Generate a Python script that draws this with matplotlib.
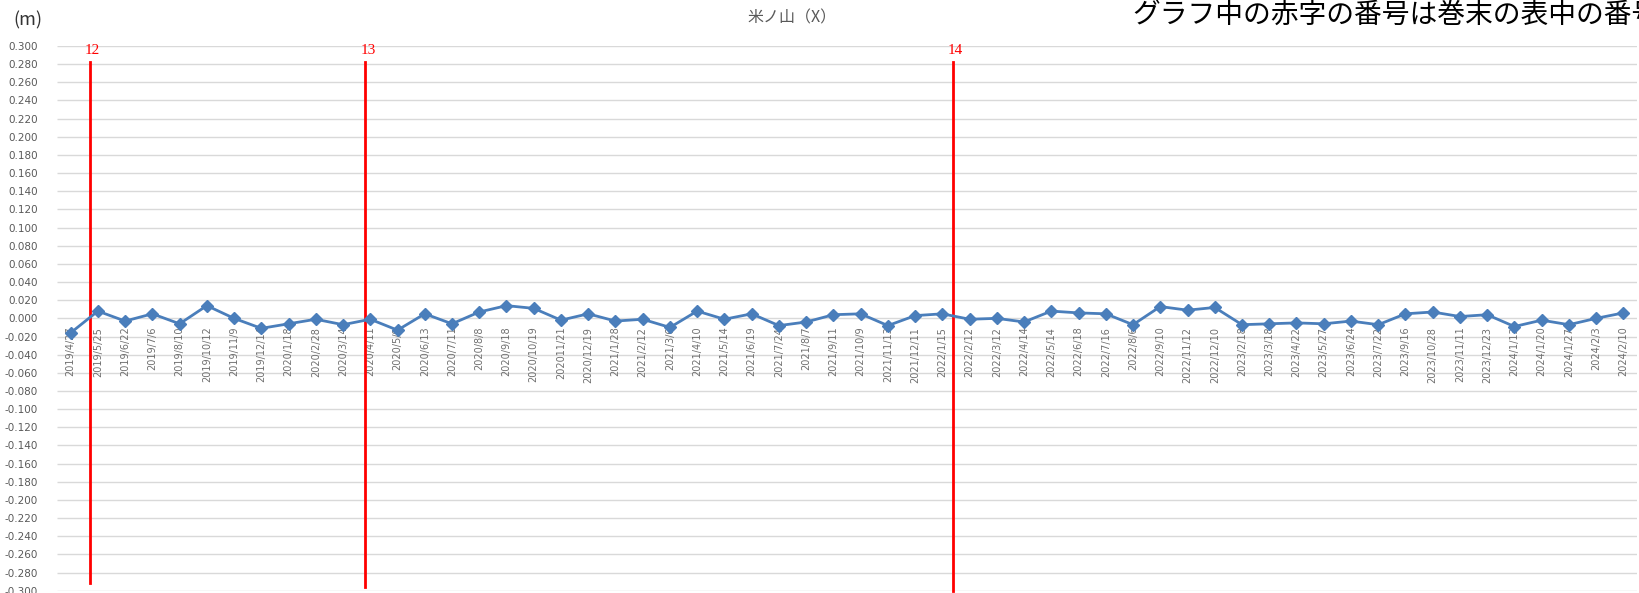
import matplotlib
matplotlib.use("Agg")
import matplotlib.pyplot as plt
import numpy as np

plt.rcParams['font.family'] = ['DejaVu Sans', 'Noto Sans CJK JP']

dates = [
    "2019/4/27", "2019/5/25", "2019/6/22", "2019/7/6", "2019/8/10", "2019/10/12",
    "2019/11/9", "2019/12/14", "2020/1/18", "2020/2/28", "2020/3/14", "2020/4/11",
    "2020/5/9", "2020/6/13", "2020/7/11", "2020/8/8", "2020/9/18", "2020/10/19",
    "202011/21", "2020/12/19", "2021/1/28", "2021/2/12", "2021/3/6", "2021/4/10",
    "2021/5/14", "2021/6/19", "2021/7/24", "2021/8/7", "2021/9/11", "2021/10/9",
    "2021/11/13", "2021/12/11", "2022/1/15", "2022/2/12", "2022/3/12", "2022/4/14",
    "2022/5/14", "2022/6/18", "2022/7/16", "2022/8/6", "2022/9/10", "2022/11/12",
    "2022/12/10", "2023/2/18", "2023/3/18", "2023/4/22", "2023/5/27", "2023/6/24",
    "2023/7/22", "2023/9/16", "2023/10/28", "2023/11/11", "2023/12/23", "2024/1/13",
    "2024/1/20", "2024/1/27", "2024/2/3", "2024/2/10",
]

values = [
    -0.016, 0.008, -0.003, 0.005, -0.006, 0.014,
    0.000, -0.011, -0.006, -0.001, -0.007, -0.001,
    -0.013, 0.005, -0.006, 0.007, 0.014, 0.011,
    -0.002, 0.005, -0.003, -0.001, -0.010, 0.008,
    -0.001, 0.005, -0.008, -0.004, 0.004, 0.005,
    -0.008, 0.003, 0.005, -0.001, 0.000, -0.004,
    0.008, 0.006, 0.005, -0.007, 0.013, 0.009,
    0.012, -0.007, -0.006, -0.005, -0.006, -0.003,
    -0.007, 0.005, 0.007, 0.002, 0.004, -0.009,
    -0.002, -0.007, 0.000, 0.006,
]

event_labels = ["12", "13", "14"]
event_pos = [0.70, 10.82, 32.39]
event_bottom = [-0.291, -0.296, -0.300]

title = "米ノ山（X）"
unit = "(m)"
note = "グラフ中の赤字の番号は巻末の表中の番号に対応"

fig = plt.figure(figsize=(16.39, 5.93), dpi=100)
ax = fig.add_axes([57/1639, 1 - 590.7/593, (1637-57)/1639, (590.7-46)/593])

x = np.arange(len(dates))
yticks = np.round(np.arange(-0.30, 0.3001, 0.02), 3)
ax.set_ylim(-0.30, 0.30)
ax.set_xlim(-0.5, len(dates) - 0.5)
ax.set_yticks(yticks)
ax.set_yticklabels([f"{v:.3f}" for v in yticks], fontsize=7.5, color='#595959')
ax.hlines(yticks, -0.5, len(dates) - 0.5, color='#d9d9d9', linewidth=1.0, zorder=0.5)
for s in ['top', 'right', 'left']:
    ax.spines[s].set_visible(False)
ax.spines['bottom'].set_position(('data', 0))
ax.spines['bottom'].set_visible(False)
ax.set_xticks(x)
ax.set_xticklabels(dates, rotation=90, fontsize=7, color='#6f6f6f')
ax.tick_params(axis='x', length=0, pad=6)
ax.tick_params(axis='y', length=0, pad=14)

ax.plot(x, values, color='#4A7EBB', linewidth=2.0, marker='D', markersize=6.5,
        markerfacecolor='#4A7EBB', markeredgecolor='#4A7EBB', zorder=5, clip_on=False)

for lab, p, b in zip(event_labels, event_pos, event_bottom):
    ax.plot([p, p], [0.282, b], color='#FF0000', linewidth=2.0, zorder=4, clip_on=False)
    ax.text(p + 0.1, 0.295, lab, color='#FF0000', fontsize=11, family='Liberation Serif',
            ha='center', va='center', zorder=6)

fig.text(792/1639, 1 - 18/593, title, fontsize=11.5, color='#595959', ha='center', va='center',
         family=['Noto Sans CJK JP', 'DejaVu Sans'])
fig.text(13/1639, 1 - 20/593, unit, fontsize=13, color='#333333', ha='left', va='center',
         family=['Noto Sans CJK JP', 'DejaVu Sans'])
fig.text(1132/1639, 1 - 15/593, note, fontsize=20, color='#000000', ha='left', va='center',
         family=['Noto Sans CJK JP', 'DejaVu Sans'])

fig.savefig("out.png", dpi=100)
